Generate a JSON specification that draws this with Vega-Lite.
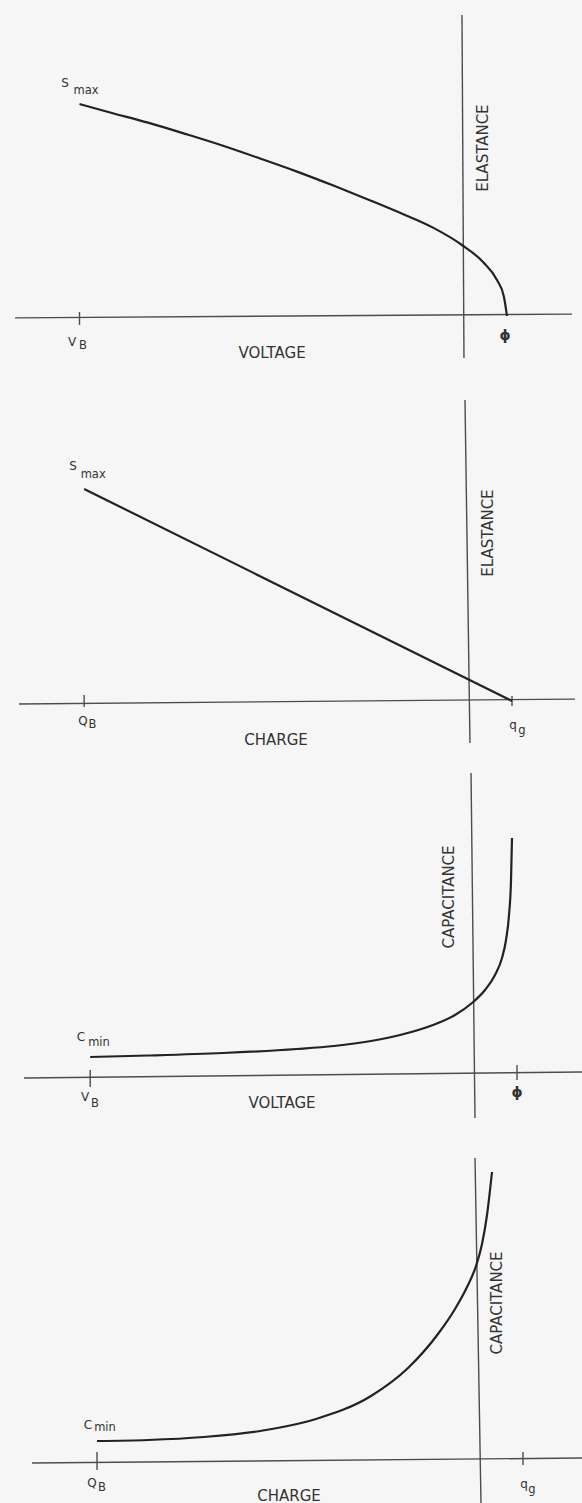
{
  "$schema": "https://vega.github.io/schema/vega-lite/v6.json",
  "description": "Elastance and capacitance of a varactor against voltage and against charge, four stacked sketches.",
  "background": "#f6f6f6",
  "padding": 0,
  "autosize": {"type": "pad"},
  "spacing": 0,
  "bounds": "flush",
  "config": {
    "view": {"stroke": null},
    "text": {"font": "DejaVu Sans", "color": "#333333", "baseline": "middle", "align": "center"}
  },
  "datasets": {
    "p1": [
      {"part": "axis", "x": -9.933, "y": -0.009, "x2": 2.444, "y2": 0.009},
      {"part": "axis", "x": 0, "y": 1.42, "x2": 0.044, "y2": -0.198},
      {"part": "axis", "x": -8.5, "y": 0.019, "x2": -8.5, "y2": -0.042},
      {"part": "curve", "x": -8.5, "y": 1.0},
      {"part": "curve", "x": -7.8, "y": 0.959},
      {"part": "curve", "x": -6.978, "y": 0.912},
      {"part": "curve", "x": -6.133, "y": 0.858},
      {"part": "curve", "x": -5.311, "y": 0.803},
      {"part": "curve", "x": -4.489, "y": 0.743},
      {"part": "curve", "x": -3.667, "y": 0.681},
      {"part": "curve", "x": -2.844, "y": 0.614},
      {"part": "curve", "x": -2.022, "y": 0.544},
      {"part": "curve", "x": -1.378, "y": 0.487},
      {"part": "curve", "x": -0.644, "y": 0.417},
      {"part": "curve", "x": 0, "y": 0.335},
      {"part": "curve", "x": 0.467, "y": 0.255},
      {"part": "curve", "x": 0.778, "y": 0.17},
      {"part": "curve", "x": 0.933, "y": 0.09},
      {"part": "curve", "x": 1.0, "y": 0.0},
      {"part": "label", "x": -8.822, "y": 1.099, "t": "S"},
      {"part": "sub", "x": -8.356, "y": 1.061, "t": "max"},
      {"part": "label", "x": -8.667, "y": -0.123, "t": "V"},
      {"part": "sub", "x": -8.422, "y": -0.142, "t": "B"},
      {"part": "title", "x": -4.222, "y": -0.175, "t": "VOLTAGE"},
      {"part": "vtitle", "x": 0.467, "y": 0.792, "t": "ELASTANCE"},
      {"part": "symbol", "x": 0.956, "y": -0.094, "t": "ϕ"}
    ],
    "p2": [
      {"part": "axis", "x": -10.465, "y": -0.014, "x2": 2.465, "y2": 0.009},
      {"part": "axis", "x": -0.093, "y": 1.42, "x2": 0.023, "y2": -0.198},
      {"part": "axis", "x": -8.95, "y": 0.028, "x2": -8.95, "y2": -0.028},
      {"part": "axis", "x": 1.0, "y": 0.024, "x2": 1.0, "y2": -0.024},
      {"part": "curve", "x": -8.95, "y": 1.0},
      {"part": "curve", "x": 1.0, "y": 0.0},
      {"part": "label", "x": -9.209, "y": 1.108, "t": "S"},
      {"part": "sub", "x": -8.74, "y": 1.066, "t": "max"},
      {"part": "label", "x": -8.977, "y": -0.094, "t": "Q"},
      {"part": "sub", "x": -8.76, "y": -0.113, "t": "B"},
      {"part": "label", "x": 1.023, "y": -0.113, "t": "q"},
      {"part": "sub", "x": 1.233, "y": -0.142, "t": "g"},
      {"part": "title", "x": -4.488, "y": -0.184, "t": "CHARGE"},
      {"part": "vtitle", "x": 0.442, "y": 0.792, "t": "ELASTANCE"}
    ],
    "p3": [
      {"part": "axis", "x": -10.205, "y": -0.167, "x2": 2.477, "y2": 0.167},
      {"part": "axis", "x": -0.045, "y": 16.778, "x2": 0.045, "y2": -2.389},
      {"part": "axis", "x": -8.7, "y": 0.278, "x2": -8.7, "y2": -0.667},
      {"part": "axis", "x": 1.0, "y": 0.556, "x2": 1.0, "y2": -0.278},
      {"part": "curve", "x": -8.7, "y": 1.0},
      {"part": "curve", "x": -7.386, "y": 1.083},
      {"part": "curve", "x": -5.682, "y": 1.222},
      {"part": "curve", "x": -4.0, "y": 1.444},
      {"part": "curve", "x": -3.159, "y": 1.611},
      {"part": "curve", "x": -2.318, "y": 1.889},
      {"part": "curve", "x": -1.659, "y": 2.222},
      {"part": "curve", "x": -0.909, "y": 2.778},
      {"part": "curve", "x": -0.409, "y": 3.333},
      {"part": "curve", "x": -0.023, "y": 4.0},
      {"part": "curve", "x": 0.273, "y": 4.722},
      {"part": "curve", "x": 0.5, "y": 5.556},
      {"part": "curve", "x": 0.659, "y": 6.5},
      {"part": "curve", "x": 0.75, "y": 7.5},
      {"part": "curve", "x": 0.818, "y": 8.889},
      {"part": "curve", "x": 0.864, "y": 10.833},
      {"part": "curve", "x": 0.886, "y": 13.167},
      {"part": "label", "x": -8.909, "y": 2.111, "t": "C"},
      {"part": "sub", "x": -8.5, "y": 1.778, "t": "min"},
      {"part": "label", "x": -8.818, "y": -1.222, "t": "V"},
      {"part": "sub", "x": -8.591, "y": -1.611, "t": "B"},
      {"part": "title", "x": -4.341, "y": -1.556, "t": "VOLTAGE"},
      {"part": "vtitle", "x": -0.545, "y": 9.889, "t": "CAPACITANCE"},
      {"part": "symbol", "x": 1.0, "y": -1.0, "t": "ϕ"}
    ],
    "p4": [
      {"part": "axis", "x": -10.419, "y": -0.048, "x2": 2.372, "y2": 0.19},
      {"part": "axis", "x": -0.116, "y": 14.476, "x2": 0.023, "y2": -1.952},
      {"part": "axis", "x": -8.907, "y": 0.476, "x2": -8.907, "y2": -0.381},
      {"part": "axis", "x": 1.0, "y": 0.476, "x2": 1.0, "y2": -0.143},
      {"part": "curve", "x": -8.907, "y": 1.0},
      {"part": "curve", "x": -7.721, "y": 1.048},
      {"part": "curve", "x": -6.419, "y": 1.19},
      {"part": "curve", "x": -5.116, "y": 1.476},
      {"part": "curve", "x": -3.814, "y": 2.048},
      {"part": "curve", "x": -2.535, "y": 3.143},
      {"part": "curve", "x": -1.674, "y": 4.476},
      {"part": "curve", "x": -0.977, "y": 6.095},
      {"part": "curve", "x": -0.581, "y": 7.286},
      {"part": "curve", "x": -0.302, "y": 8.333},
      {"part": "curve", "x": -0.093, "y": 9.333},
      {"part": "curve", "x": 0.047, "y": 10.381},
      {"part": "curve", "x": 0.163, "y": 11.762},
      {"part": "curve", "x": 0.279, "y": 13.81},
      {"part": "label", "x": -9.116, "y": 1.762, "t": "C"},
      {"part": "sub", "x": -8.721, "y": 1.619, "t": "min"},
      {"part": "label", "x": -9.023, "y": -1.0, "t": "Q"},
      {"part": "sub", "x": -8.79, "y": -1.238, "t": "B"},
      {"part": "label", "x": 1.023, "y": -1.048, "t": "q"},
      {"part": "sub", "x": 1.209, "y": -1.333, "t": "g"},
      {"part": "title", "x": -4.442, "y": -1.6, "t": "CHARGE"},
      {"part": "vtitle", "x": 0.395, "y": 7.571, "t": "CAPACITANCE"}
    ]
  },
  "vconcat": [
    {
      "width": 582, "height": 376,
      "data": {"name": "p1"},
      "encoding": {
        "x": {"field": "x", "type": "quantitative", "scale": {"domain": [-10.267, 2.667], "nice": false, "zero": false}, "axis": null},
        "y": {"field": "y", "type": "quantitative", "scale": {"domain": [-0.283, 1.4906], "nice": false, "zero": false}, "axis": null}
      },
      "layer": [
        {"transform": [{"filter": "datum.part === 'axis'"}], "mark": {"type": "rule", "color": "#4d4d4d", "strokeWidth": 1.4}, "encoding": {"x2": {"field": "x2"}, "y2": {"field": "y2"}}},
        {"transform": [{"filter": "datum.part === 'curve'"}], "mark": {"type": "line", "color": "#222222", "strokeWidth": 2.2, "interpolate": "monotone"}, "encoding": {}},
        {"transform": [{"filter": "datum.part === 'label'"}], "mark": {"type": "text", "fontSize": 12}, "encoding": {"text": {"field": "t"}}},
        {"transform": [{"filter": "datum.part === 'sub'"}], "mark": {"type": "text", "fontSize": 11.5}, "encoding": {"text": {"field": "t"}}},
        {"transform": [{"filter": "datum.part === 'title'"}], "mark": {"type": "text", "fontSize": 15}, "encoding": {"text": {"field": "t"}}},
        {"transform": [{"filter": "datum.part === 'vtitle'"}], "mark": {"type": "text", "fontSize": 15, "angle": 270}, "encoding": {"text": {"field": "t"}}},
        {"transform": [{"filter": "datum.part === 'symbol'"}], "mark": {"type": "text", "fontSize": 14, "fontWeight": "bold"}, "encoding": {"text": {"field": "t"}}}
      ]
    },
    {
      "width": 582, "height": 376,
      "data": {"name": "p2"},
      "encoding": {
        "x": {"field": "x", "type": "quantitative", "scale": {"domain": [-10.907, 2.628], "nice": false, "zero": false}, "axis": null},
        "y": {"field": "y", "type": "quantitative", "scale": {"domain": [-0.2406, 1.533], "nice": false, "zero": false}, "axis": null}
      },
      "layer": [
        {"transform": [{"filter": "datum.part === 'axis'"}], "mark": {"type": "rule", "color": "#4d4d4d", "strokeWidth": 1.4}, "encoding": {"x2": {"field": "x2"}, "y2": {"field": "y2"}}},
        {"transform": [{"filter": "datum.part === 'curve'"}], "mark": {"type": "line", "color": "#222222", "strokeWidth": 2.2}, "encoding": {}},
        {"transform": [{"filter": "datum.part === 'label'"}], "mark": {"type": "text", "fontSize": 12}, "encoding": {"text": {"field": "t"}}},
        {"transform": [{"filter": "datum.part === 'sub'"}], "mark": {"type": "text", "fontSize": 11.5}, "encoding": {"text": {"field": "t"}}},
        {"transform": [{"filter": "datum.part === 'title'"}], "mark": {"type": "text", "fontSize": 15}, "encoding": {"text": {"field": "t"}}},
        {"transform": [{"filter": "datum.part === 'vtitle'"}], "mark": {"type": "text", "fontSize": 15, "angle": 270}, "encoding": {"text": {"field": "t"}}}
      ]
    },
    {
      "width": 582, "height": 376,
      "data": {"name": "p3"},
      "encoding": {
        "x": {"field": "x", "type": "quantitative", "scale": {"domain": [-10.75, 2.477], "nice": false, "zero": false}, "axis": null},
        "y": {"field": "y", "type": "quantitative", "scale": {"domain": [-2.944, 17.944], "nice": false, "zero": false}, "axis": null}
      },
      "layer": [
        {"transform": [{"filter": "datum.part === 'axis'"}], "mark": {"type": "rule", "color": "#4d4d4d", "strokeWidth": 1.4}, "encoding": {"x2": {"field": "x2"}, "y2": {"field": "y2"}}},
        {"transform": [{"filter": "datum.part === 'curve'"}], "mark": {"type": "line", "color": "#222222", "strokeWidth": 2.2, "interpolate": "monotone"}, "encoding": {}},
        {"transform": [{"filter": "datum.part === 'label'"}], "mark": {"type": "text", "fontSize": 12}, "encoding": {"text": {"field": "t"}}},
        {"transform": [{"filter": "datum.part === 'sub'"}], "mark": {"type": "text", "fontSize": 11.5}, "encoding": {"text": {"field": "t"}}},
        {"transform": [{"filter": "datum.part === 'title'"}], "mark": {"type": "text", "fontSize": 15}, "encoding": {"text": {"field": "t"}}},
        {"transform": [{"filter": "datum.part === 'vtitle'"}], "mark": {"type": "text", "fontSize": 15, "angle": 270}, "encoding": {"text": {"field": "t"}}},
        {"transform": [{"filter": "datum.part === 'symbol'"}], "mark": {"type": "text", "fontSize": 14, "fontWeight": "bold"}, "encoding": {"text": {"field": "t"}}}
      ]
    },
    {
      "width": 582, "height": 375,
      "data": {"name": "p4"},
      "encoding": {
        "x": {"field": "x", "type": "quantitative", "scale": {"domain": [-11.163, 2.372], "nice": false, "zero": false}, "axis": null},
        "y": {"field": "y", "type": "quantitative", "scale": {"domain": [-1.952, 15.905], "nice": false, "zero": false}, "axis": null}
      },
      "layer": [
        {"transform": [{"filter": "datum.part === 'axis'"}], "mark": {"type": "rule", "color": "#4d4d4d", "strokeWidth": 1.4}, "encoding": {"x2": {"field": "x2"}, "y2": {"field": "y2"}}},
        {"transform": [{"filter": "datum.part === 'curve'"}], "mark": {"type": "line", "color": "#222222", "strokeWidth": 2.2, "interpolate": "monotone"}, "encoding": {}},
        {"transform": [{"filter": "datum.part === 'label'"}], "mark": {"type": "text", "fontSize": 12}, "encoding": {"text": {"field": "t"}}},
        {"transform": [{"filter": "datum.part === 'sub'"}], "mark": {"type": "text", "fontSize": 11.5}, "encoding": {"text": {"field": "t"}}},
        {"transform": [{"filter": "datum.part === 'title'"}], "mark": {"type": "text", "fontSize": 15}, "encoding": {"text": {"field": "t"}}},
        {"transform": [{"filter": "datum.part === 'vtitle'"}], "mark": {"type": "text", "fontSize": 15, "angle": 270}, "encoding": {"text": {"field": "t"}}}
      ]
    }
  ]
}
